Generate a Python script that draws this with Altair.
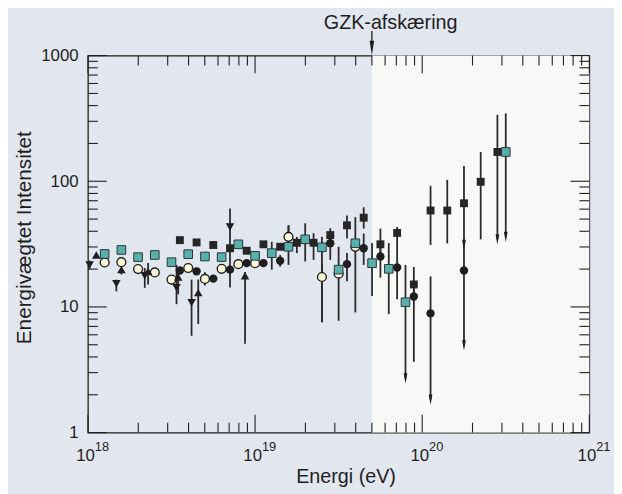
import altair as alt
import pandas as pd

# ---------------- data ----------------
# energies as log10(E / eV); intensities in the chart's units
# black squares
sq_logE = [18.55, 18.65, 18.75, 18.85, 18.95, 19.05, 19.15, 19.25, 19.35, 19.45,
           19.55, 19.65, 19.75, 19.85, 19.95, 20.05, 20.15, 20.25, 20.35, 20.45]
sq_val = [34.0, 32.6, 31.1, 29.3, 28.0, 31.5, 30.1, 32.4, 32.4, 37.3,
          44.6, 51.3, 31.5, 38.8, 15.1, 58.5, 58.5, 66.8, 99.0, 171]
sq_lo = [None, None, None, None, None, None, None, 26.8, 23.7, 32.0,
         35.1, 42.0, 25.0, 30.0, 12.0, 31.1, 32.0, 31.1, 34.5, 34.5]
sq_hi = [None, None, None, None, None, None, None, 36.1, 38.6, 42.3,
         53.5, 62.1, 42.0, 43.3, 20.8, 92.0, 102.6, 132, 171, 338]

# teal squares
tl_logE = [18.1, 18.2, 18.3, 18.4, 18.5, 18.6, 18.7, 18.8, 18.9, 19.0,
           19.1, 19.2, 19.3, 19.4, 19.5, 19.6, 19.7, 19.8, 19.9, 20.5]
tl_val = [26.4, 28.4, 24.9, 25.9, 22.7, 26.3, 25.2, 24.9, 31.5, 25.5,
          26.8, 30.1, 34.5, 29.8, 19.8, 32.1, 22.3, 20.1, 10.9, 171]
tl_lo = [None, None, None, None, None, None, None, None, None, None,
         19.8, 21.6, 23.0, 7.54, 7.76, 9.04, 12.2, 8.77, 2.70, 36.1]
tl_hi = [None, None, None, None, None, None, None, None, None, None,
         33.0, 44.6, 46.3, 36.1, 30.1, 51.9, 32.2, 32.2, 21.6, 347]

# black circles
ci_logE = [18.55, 18.65, 18.75, 18.85, 18.95, 19.05, 19.15, 19.45, 19.55, 19.65,
           19.75, 19.85, 19.95, 20.05, 20.25]
ci_val = [19.5, 19.2, 16.8, 19.8, 22.3, 22.3, 23.3, 32.1, 21.9, 29.3,
          25.2, 20.6, 12.1, 8.88, 19.5]
ci_lo = [None, None, None, None, None, None, 20.9, 23.7, 16.0, 21.6,
         17.1, 11.5, 3.66, 1.83, 4.94]
ci_hi = [None, None, None, None, None, None, 25.9, 35.0, 26.8, 38.4,
         30.0, 30.0, 15.0, 17.5, 31.0]

# open circles
oc_logE = [18.1, 18.2, 18.3, 18.4, 18.5, 18.6, 18.7, 18.8, 18.9, 19.0,
           19.2, 19.4, 19.5, 19.6]
oc_val = [22.6, 22.7, 20.0, 18.8, 16.5, 20.4, 16.7, 20.1, 21.9, 22.3,
          36.1, 17.3, 18.4, 30.1]
oc_lo = [None, None, None, None, None, None, 14.8, None, None, None,
         30.0, 7.54, None, None]
oc_hi = [None, None, None, None, None, None, 18.9, None, None, None,
         44.6, 22.0, None, None]

# triangles (up)
tu_logE = [18.05, 18.20, 18.36, 18.54, 18.66, 18.94]
tu_val = [25.9, 19.8, 19.2, 17.3, 13.0, 17.7]
tu_lo = [None, 18.1, 15.1, 12.6, 7.31, 5.09]
tu_hi = [None, 20.5, 22.4, 19.5, 16.5, 19.0]

# triangles (down)
td_logE = [18.01, 18.17, 18.34, 18.53, 18.62, 18.85]
td_val = [21.6, 15.3, 17.7, 14.2, 10.8, 43.3]
td_lo = [20.0, 13.3, 14.2, 10.5, 5.9, 14.3]
td_hi = [23.4, 16.5, 20.4, 21.6, 16.5, 60.7]

# upper-limit arrow heads
ar_logE = [19.9, 20.05, 20.25, 20.25, 20.45, 20.5]
ar_val = [2.70, 1.83, 4.94, 31.1, 34.5, 36.1]

# shaded / unshaded regions, annotation
gzk_E = [5e19]
gzk_label = ["GZK-afskæring"]
region_start = [5e19]
region_end = [1e21]

# axes
x_major = [1e18, 1e19, 1e20, 1e21]
x_base = ["10", "10", "10", "10"]
x_exp = ["18", "19", "20", "21"]
x_minor = [k * 10.0 ** n for n in (18, 19, 20) for k in range(2, 10)]
y_major = [1, 10, 100, 1000]
y_minor = [k * 10.0 ** n for n in (0, 1, 2) for k in range(2, 10)]

# ---------------- chart ----------------
W, H = 508, 382
FONT = "Liberation Sans"
INK = "#1e1e1e"

xs = alt.Scale(type="log", domain=[1e18, 1e21], nice=False)
ys = alt.Scale(type="log", domain=[1, 1000], nice=False)

xaxis = alt.Axis(labels=False, ticks=False, domain=False, grid=False,
                 title="Energi (eV)", titleFontSize=20, titleFontWeight="normal",
                 titleColor=INK, titleX=261, titleY=51, titleBaseline="alphabetic")
yaxis = alt.Axis(values=y_major, format="d", ticks=False, domain=False, grid=False,
                 labelFontSize=17, labelPadding=10, labelColor=INK,
                 title="Energivægtet Intensitet", titleFontSize=21,
                 titleFontWeight="normal", titleColor=INK, titleAngle=270,
                 titleX=-58, titleY=184, titleBaseline="alphabetic")


def X(f="E"):
    return alt.X(f, type="quantitative", scale=xs, axis=xaxis)


def Y(f="I"):
    return alt.Y(f, type="quantitative", scale=ys, axis=yaxis)


def pts(logE, val):
    return pd.DataFrame({"E": [10 ** v for v in logE], "I": val})


def errs(logE, lo, hi):
    rows = [(10 ** e, l, h) for e, l, h in zip(logE, lo, hi) if l is not None]
    return pd.DataFrame(rows, columns=["E", "lo", "hi"])


# background region above the GZK cut-off
region = alt.Chart(pd.DataFrame({"E": region_start, "E2": region_end})).mark_rect(
    color="#f8f8f7").encode(x=X("E"), x2="E2", y=alt.value(0), y2=alt.value(H))

# error bars
err_df = pd.concat([
    errs(sq_logE, sq_lo, sq_hi), errs(tl_logE, tl_lo, tl_hi),
    errs(ci_logE, ci_lo, ci_hi), errs(oc_logE, oc_lo, oc_hi),
    errs(tu_logE, tu_lo, tu_hi), errs(td_logE, td_lo, td_hi)])
bars = alt.Chart(err_df).mark_rule(color="#2a2a2a", strokeWidth=1.8).encode(
    x=X(), y=Y("lo"), y2="hi")

arrow_path = "M-0.36,-1L0.36,-1L0,1Z"
arrows = alt.Chart(pts(ar_logE, ar_val)).mark_point(
    shape=arrow_path, filled=True, size=110, color=INK, opacity=1).encode(x=X(), y=Y())

open_c = alt.Chart(pts(oc_logE, oc_val)).mark_circle(
    size=80, fill="#fbf8d8", stroke=INK, strokeWidth=1.4, opacity=1).encode(x=X(), y=Y())
black_c = alt.Chart(pts(ci_logE, ci_val)).mark_circle(
    size=72, color=INK, opacity=1).encode(x=X(), y=Y())
teal = alt.Chart(pts(tl_logE, tl_val)).mark_square(
    size=76, fill="#58b0ac", stroke="#2a3636", strokeWidth=1, opacity=1).encode(x=X(), y=Y())
black_s = alt.Chart(pts(sq_logE, sq_val)).mark_square(
    size=64, color="#262626", opacity=1).encode(x=X(), y=Y())
tri_up = alt.Chart(pts(tu_logE, tu_val)).mark_point(
    shape="triangle-up", filled=True, size=75, color=INK, opacity=1).encode(x=X(), y=Y())
tri_dn = alt.Chart(pts(td_logE, td_val)).mark_point(
    shape="triangle-down", filled=True, size=75, color=INK, opacity=1).encode(x=X(), y=Y())

# inside ticks on all four sides
def xticks(vals, length):
    d = pd.DataFrame({"E": vals})
    bot = alt.Chart(d).mark_rule(color=INK, strokeWidth=1.1).encode(
        x=X(), y=alt.value(H), y2=alt.value(H - length))
    top = alt.Chart(d).mark_rule(color=INK, strokeWidth=1.1).encode(
        x=X(), y=alt.value(0), y2=alt.value(length))
    return bot + top


def yticks(vals, length):
    d = pd.DataFrame({"I": vals})
    lft = alt.Chart(d).mark_rule(color=INK, strokeWidth=1.1).encode(
        y=Y(), x=alt.value(0), x2=alt.value(length))
    rgt = alt.Chart(d).mark_rule(color=INK, strokeWidth=1.1).encode(
        y=Y(), x=alt.value(W), x2=alt.value(W - length))
    return lft + rgt


ticks = xticks(x_major, 18) + xticks(x_minor, 10) + yticks(y_major, 19) + yticks(y_minor, 10)

# x tick labels 10^n
lab_df = pd.DataFrame({"E": x_major, "b": x_base, "e": x_exp})
lab_base = alt.Chart(lab_df).mark_text(
    align="right", baseline="alphabetic", dx=7, fontSize=17, color=INK).encode(
    x=X(), y=alt.value(H + 29), text="b:N")
lab_exp = alt.Chart(lab_df).mark_text(
    align="left", baseline="alphabetic", dx=7, fontSize=13, color=INK).encode(
    x=X(), y=alt.value(H + 19), text="e:N")

# GZK annotation
gzk_df = pd.DataFrame({"E": gzk_E, "t": gzk_label})
gzk_text = alt.Chart(gzk_df).mark_text(
    align="center", baseline="alphabetic", dx=19, fontSize=20, color=INK).encode(
    x=X(), y=alt.value(-27), text="t:N")
gzk_line = alt.Chart(gzk_df).mark_rule(color=INK, strokeWidth=1.3).encode(
    x=X(), y=alt.value(-25), y2=alt.value(-10))
gzk_head = alt.Chart(gzk_df).mark_point(
    shape="M-0.3,-1L0.3,-1L0,1Z", filled=True, size=225, color=INK, opacity=1).encode(
    x=X(), y=alt.value(-7.5))

chart = alt.layer(
    region, ticks, bars, open_c, teal, black_c, black_s, tri_up, tri_dn, arrows,
    lab_base, lab_exp, gzk_text, gzk_line, gzk_head
).properties(
    width=W, height=H,
    padding={"left": 81, "top": 45, "right": 25, "bottom": 59},
    autosize=alt.AutoSizeParams(type="none"),
).configure(
    font=FONT, background="#e2e6ef"
).configure_view(
    stroke=INK, strokeWidth=1.3
)

chart.save("out.html", embed_options={"renderer": "svg", "actions": False})
